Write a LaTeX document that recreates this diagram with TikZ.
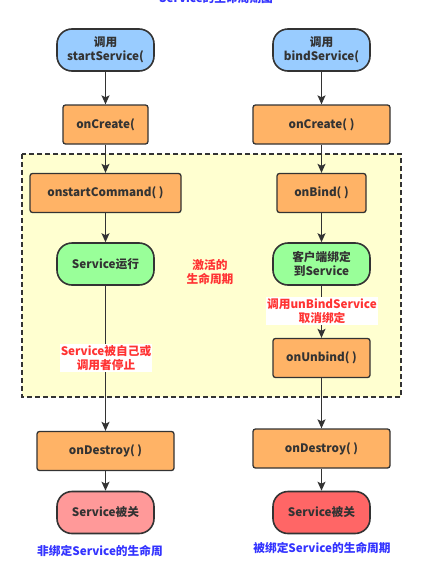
\documentclass[tikz,border=0pt]{standalone}
\usepackage{fontspec}
\setmainfont{Noto Sans CJK SC}
\usetikzlibrary{arrows.meta}
\definecolor{lblue}{HTML}{99CCFF}
\definecolor{lorange}{HTML}{FFB366}
\definecolor{lgreen}{HTML}{99FF99}
\definecolor{lpink}{HTML}{FF9999}
\definecolor{lred}{HTML}{FF6666}
\definecolor{lyellow}{HTML}{FFFFD0}
\definecolor{dk}{HTML}{333333}
\definecolor{tred}{HTML}{FF3333}
\definecolor{tblue}{HTML}{3333FF}
\tikzset{
  base/.style={draw=dk, text=dk, font=\bfseries\fontsize{11.7}{14}\selectfont, align=center, inner sep=0pt},
  pill/.style={base, line width=1.6pt, rounded corners=15pt, minimum width=97pt, minimum height=42pt},
  stepbox/.style={base, fill=lorange, line width=1.3pt, rounded corners=2.5pt, minimum height=39pt},
  conn/.style={draw=dk, line width=1.3pt, -{Stealth[length=9pt,width=8pt,inset=2pt]}},
  redlbl/.style={text=tred, font=\bfseries\fontsize{11.7}{14}\selectfont, align=center, inner sep=1pt},
  bluelbl/.style={text=tblue, font=\bfseries\fontsize{11.7}{14}\selectfont, inner sep=0pt}
}
\begin{document}
\begin{tikzpicture}[x=1pt,y=-1pt]
\useasboundingbox (0,0) rectangle (432,565);
% active region
\draw[draw=dk, fill=lyellow, line width=1.3pt, dash pattern=on 5pt off 3pt] (22,154) rectangle (401,397);
% title
\node[bluelbl] (title) at (216,-2) {Service的生命周期图};
% left column
\node[pill, fill=lblue] (ls) at (105.5,50) {调用\\startService(};
\node[stepbox, minimum width=85pt] (lc) at (105.5,124.5) {onCreate(};
\node[stepbox, minimum width=151pt] (lcmd) at (105.5,193) {onstartCommand( )};
\node[pill, fill=lgreen] (lrun) at (105.5,264) {Service运行};
\node[stepbox, minimum width=137pt] (ldes) at (105.5,451) {onDestroy( )};
\node[pill, fill=lpink] (lend) at (105.5,512.5) {Service被关};
% right column
\node[pill, fill=lblue] (rs) at (321.5,50) {调用\\bindService(};
\node[stepbox, minimum width=137pt] (rc) at (321.5,124.5) {onCreate( )};
\node[stepbox, minimum width=89pt] (rbind) at (321.5,193) {onBind( )};
\node[pill, fill=lgreen] (rcli) at (321.5,264) {客户端绑定\\到Service};
\node[stepbox, minimum width=97pt] (runb) at (321.5,358) {onUnbind( )};
\node[stepbox, minimum width=137pt] (rdes) at (321.5,448.5) {onDestroy( )};
\node[pill, fill=lred] (rend) at (321.5,512.5) {Service被关};
% connectors
\draw[conn] (ls) -- (lc);
\draw[conn] (lc) -- (lcmd);
\draw[conn] (lcmd) -- (lrun);
\draw[conn] (lrun) -- (ldes);
\draw[conn] (ldes) -- (lend);
\draw[conn] (rs) -- (rc);
\draw[conn] (rc) -- (rbind);
\draw[conn] (rbind) -- (rcli);
\draw[conn] (rcli) -- (runb);
\draw[conn] (runb) -- (rdes);
\draw[conn] (rdes) -- (rend);
% labels
\node[redlbl] (active) at (210,272) {激活的\\生命周期};
\node[redlbl, fill=white] (stop) at (106,358) {Service被自己或\\调用者停止};
\node[redlbl, fill=white] (unbind) at (322,311) {调用unBindService\\取消绑定};
\node[bluelbl] (lcap) at (100,551) {非绑定Service的生命周};
\node[bluelbl] (rcap) at (322,548) {被绑定Service的生命周期};
\end{tikzpicture}
\end{document}
